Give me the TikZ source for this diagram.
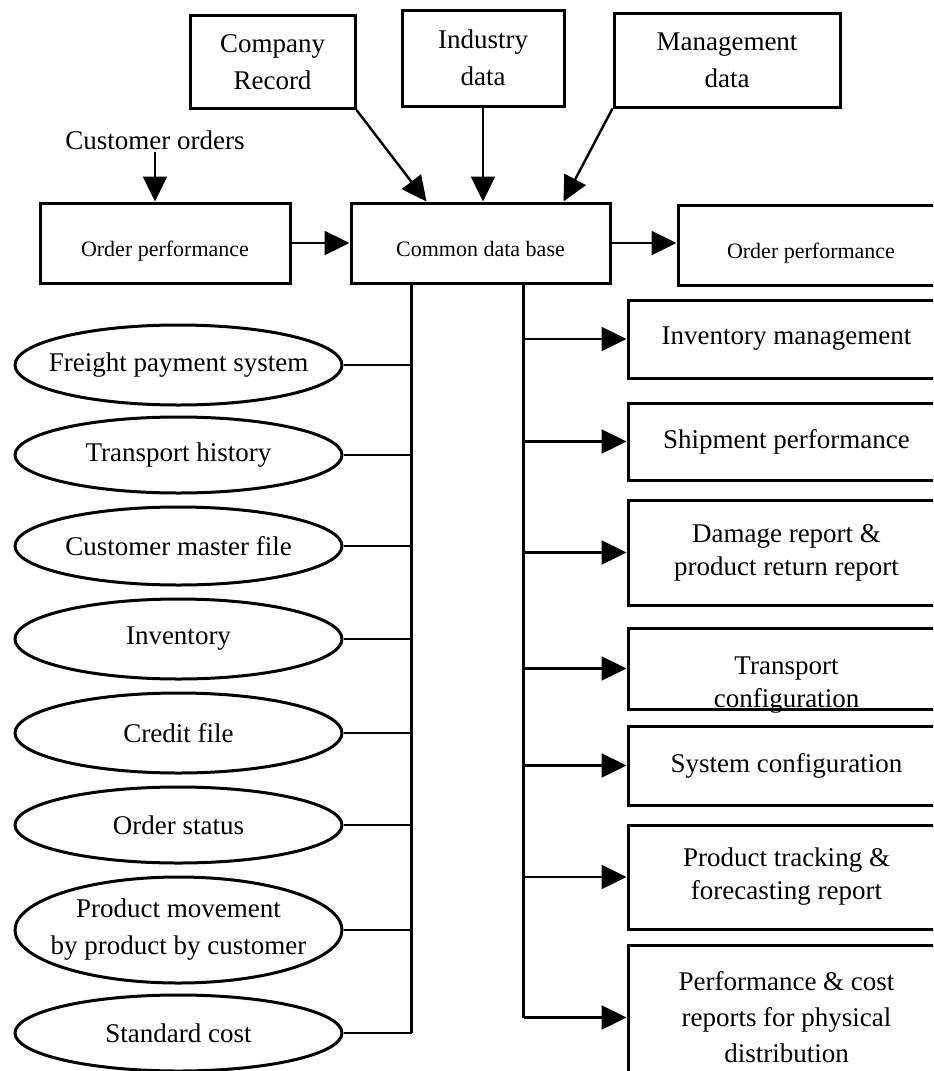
\documentclass[tikz,border=0pt]{standalone}
\usepackage{fontspec}
\setmainfont{Liberation Serif}
\usetikzlibrary{arrows.meta, shapes.geometric, positioning, calc}

\tikzset{
  srcbox/.style={draw, line width=1.5pt, align=center, inner sep=0pt,
    font=\fontsize{13.5}{18.5}\selectfont},
  midbox/.style={draw, line width=1.5pt, minimum height=40pt, inner sep=0pt,
    text height=15pt, text depth=2pt, font=\fontsize{11}{13}\selectfont},
  repbox/.style={draw, line width=1.5pt, minimum width=158.5pt, align=center,
    inner sep=0pt, font=\fontsize{13.5}{16.5}\selectfont},
  filebox/.style={ellipse, draw, line width=1.5pt, minimum width=163.5pt,
    inner xsep=-14pt, inner ysep=0pt, align=center,
    font=\fontsize{13.5}{18.5}\selectfont},
  arr/.style={-{Triangle[length=12.5pt,width=12pt]}, line width=1.2pt},
  link/.style={line width=1.2pt}
}

\begin{document}
\begin{tikzpicture}[x=0.5pt, y=-0.5pt]
  \useasboundingbox (0,0) rectangle (933,1071);
  \clip (0,0) rectangle (933,1071);
  % Data sources
  \node[srcbox, minimum width=82.5pt, minimum height=46.5pt] (comprec) at (272.5,62) {Company\\Record};
  \node[srcbox, minimum width=81pt, minimum height=48pt] (inddata) at (483,58) {Industry\\data};
  \node[srcbox, minimum width=113pt, minimum height=47pt] (mgmtdata) at (727,60) {Management\\data};
  \node[font=\fontsize{13.5}{16}\selectfont, inner sep=1pt] (custord) at (155,140) {Customer orders};
  % Middle row
  \node[midbox, minimum width=125pt] (ordin) at (165,243) {Order performance};
  \node[midbox, minimum width=129.5pt] (cdb) at (480.5,243) {Common data base};
  \node[midbox, minimum width=133pt] (ordout) at (811,245) {Order performance};
  % Inputs to the data base
  \draw[arr] (custord.south) -- (custord.south |- ordin.north);
  \draw[arr] (comprec.south east) -- ($(cdb.north west)+(77,0)$);
  \draw[arr] (inddata.south) -- (inddata.south |- cdb.north);
  \draw[arr] (mgmtdata.south west) -- ($(cdb.north east)+(-48,0)$);
  \draw[arr] (ordin.east) -- (cdb.west);
  \draw[arr] (cdb.east) -- (cdb.east -| ordout.west);
  % Bus lines under the data base
  \coordinate (lbus) at ($(cdb.south west)+(62,0)$);
  \coordinate (rbus) at ($(cdb.south west)+(174,0)$);
  % Files (left)
  \node[filebox, minimum height=40pt] (frpay) at (178.5,365) {Freight payment system};
  \node[filebox, minimum height=38pt] (trhist) at (178.5,455) {Transport history};
  \node[filebox, minimum height=39pt] (custmast) at (178.5,546) {Customer master file};
  \node[filebox, minimum height=40pt] (invfile) at (178.5,639) {Inventory};
  \node[filebox, minimum height=40pt] (credfile) at (178.5,733) {Credit file};
  \node[filebox, minimum height=38pt] (ordstat) at (178.5,825) {Order status};
  \node[filebox, minimum height=53pt] (prodmove) at (178.5,930) {Product movement\\by product by customer};
  \node[filebox, minimum height=38pt] (stdcost) at (178.5,1033) {Standard cost};
  \draw[link] (lbus) -- (lbus |- stdcost.east);
  \draw[link] (frpay.east) -- (frpay.east -| lbus);
  \draw[link] (trhist.east) -- (trhist.east -| lbus);
  \draw[link] (custmast.east) -- (custmast.east -| lbus);
  \draw[link] (invfile.east) -- (invfile.east -| lbus);
  \draw[link] (credfile.east) -- (credfile.east -| lbus);
  \draw[link] (ordstat.east) -- (ordstat.east -| lbus);
  \draw[link] (prodmove.east) -- (prodmove.east -| lbus);
  \draw[link] (stdcost.east) -- (stdcost.east -| lbus);
  % Reports (right)
  \node[repbox, minimum height=39pt] (invmgmt) at (786.5,339) {Inventory management};
  \node[repbox, minimum height=38.5pt] (shipperf) at (786.5,441.5) {Shipment performance};
  \node[repbox, minimum height=52.5pt] (dmgrep) at (786.5,552.5) {Damage report \&\\product return report};
  \node[repbox, minimum height=40.5pt] (tconf) at (786.5,668.5) {};
  \node[font=\fontsize{13.5}{16.5}\selectfont, align=center, inner sep=0pt] (tconftxt) at ($(tconf.center)+(0,17)$) {Transport\\configuration};
  \node[repbox, minimum height=39.5pt] (sysconf) at (786.5,765.5) {System configuration};
  \node[repbox, minimum height=52pt] (prodtrack) at (786.5,877) {Product tracking \&\\forecasting report};
  \node[repbox, minimum height=72.5pt, font=\fontsize{13.5}{18}\selectfont] (perfcost) at (786.5,1017.5) {Performance \& cost\\reports for physical\\distribution};
  \draw[link] (rbus) -- (rbus |- perfcost.west);
  \draw[arr] (invmgmt.west -| rbus) -- (invmgmt.west);
  \draw[arr] (shipperf.west -| rbus) -- (shipperf.west);
  \draw[arr] (dmgrep.west -| rbus) -- (dmgrep.west);
  \draw[arr] (tconf.west -| rbus) -- (tconf.west);
  \draw[arr] (sysconf.west -| rbus) -- (sysconf.west);
  \draw[arr] (prodtrack.west -| rbus) -- (prodtrack.west);
  \draw[arr] (perfcost.west -| rbus) -- (perfcost.west);
\end{tikzpicture}
\end{document}
